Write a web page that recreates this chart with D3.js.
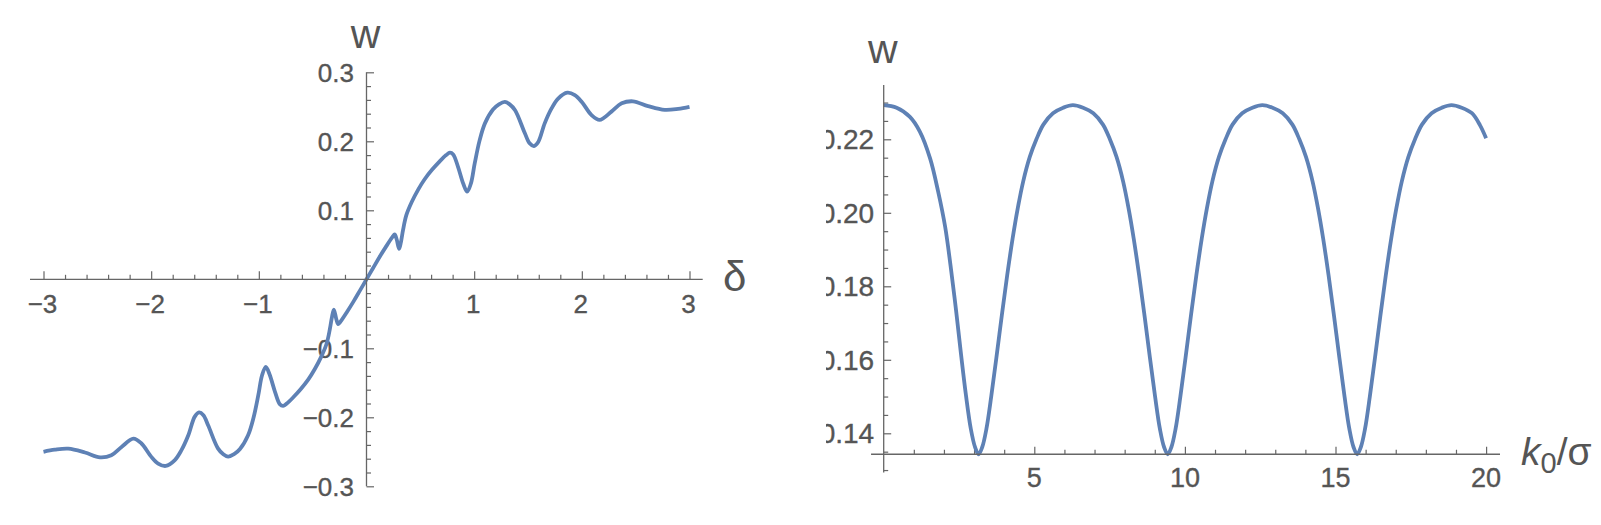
<!DOCTYPE html>
<html>
<head>
<meta charset="utf-8">
<script src="https://cdn.jsdelivr.net/npm/d3@7"></script>
<style>
  body { margin: 0; background: #fff; }
  svg { display: block; }
  text { font-family: "Liberation Sans", Arial, sans-serif; fill: #555; }
  .tl { stroke: #555; stroke-width: 0.35px; }
</style>
</head>
<body>
<svg width="1601" height="525"></svg>
<script>
// left panel: w against delta
const delta = [
  -3.00, -2.895, -2.77, -2.615, -2.475, -2.37, -2.275, -2.165, -2.09, -2.00,
  -1.935, -1.865, -1.78, -1.72, -1.655, -1.595, -1.555, -1.515, -1.47, -1.38,
  -1.33, -1.285, -1.23, -1.175, -1.10, -1.05, -1.005, -0.97, -0.935, -0.90,
  -0.85, -0.805, -0.775, -0.74, -0.68, -0.61, -0.54, -0.48, -0.42, -0.37,
  -0.34, -0.32, -0.303, -0.28, -0.262, -0.24, -0.18, -0.12, -0.06,
  0, 0.06, 0.12, 0.18, 0.24, 0.262, 0.28, 0.303, 0.32, 0.34,
  0.37, 0.42, 0.48, 0.54, 0.61, 0.68, 0.74, 0.775, 0.805, 0.85,
  0.90, 0.935, 0.97, 1.005, 1.05, 1.10, 1.175, 1.23, 1.285, 1.33,
  1.38, 1.47, 1.515, 1.555, 1.595, 1.655, 1.72, 1.78, 1.865, 1.935,
  2.00, 2.09, 2.165, 2.275, 2.37, 2.475, 2.615, 2.77, 2.895, 3.00
];
const wDelta = [
  -0.250, -0.247, -0.2455, -0.251, -0.258, -0.255, -0.243, -0.231, -0.238, -0.257,
  -0.267, -0.2705, -0.262, -0.248, -0.226, -0.199, -0.193, -0.197, -0.212, -0.245,
  -0.2535, -0.257, -0.2535, -0.246, -0.226, -0.201, -0.168, -0.139, -0.127, -0.138,
  -0.163, -0.181, -0.1835, -0.180, -0.171, -0.159, -0.145, -0.130, -0.112, -0.093,
  -0.072, -0.054, -0.044, -0.058, -0.065, -0.061, -0.047, -0.032, -0.016,
  0, 0.016, 0.032, 0.047, 0.061, 0.065, 0.058, 0.044, 0.054, 0.072,
  0.093, 0.112, 0.130, 0.145, 0.159, 0.171, 0.180, 0.1835, 0.181, 0.163,
  0.138, 0.127, 0.139, 0.168, 0.201, 0.226, 0.246, 0.2535, 0.257, 0.2535,
  0.245, 0.212, 0.197, 0.193, 0.199, 0.226, 0.248, 0.262, 0.2705, 0.267,
  0.257, 0.238, 0.231, 0.243, 0.255, 0.258, 0.251, 0.2455, 0.247, 0.250
];

// right panel: w against k0/sigma
const kSigma = [
  0, 0.43, 0.87, 1.2, 1.54, 1.81, 2.04, 2.22, 2.40, 2.57, 2.73, 2.89, 3.03, 3.15,
  3.27, 3.41, 3.57, 3.74, 3.92, 4.10, 4.28, 4.45, 4.63, 4.85, 5.07, 5.30, 5.62, 5.96, 6.28,
  6.62, 6.96, 7.28, 7.51, 7.73, 7.95, 8.13, 8.30, 8.48, 8.66, 8.84, 9.01, 9.17, 9.31, 9.43,
  9.55, 9.69, 9.85, 10.02, 10.20, 10.38, 10.56, 10.73, 10.91, 11.13, 11.35, 11.58, 11.90, 12.24, 12.57,
  12.91, 13.25, 13.57, 13.80, 14.02, 14.24, 14.42, 14.59, 14.77, 14.95, 15.13, 15.30, 15.46, 15.60, 15.72,
  15.84, 15.98, 16.14, 16.31, 16.49, 16.67, 16.85, 17.02, 17.20, 17.42, 17.64, 17.87, 18.19, 18.53, 18.85,
  19.19, 19.53, 19.80, 20.0
];
const wK = [
  0.2293, 0.2286, 0.2261, 0.2221, 0.2148, 0.2057, 0.1962, 0.1856, 0.1736, 0.1613, 0.1504, 0.1413, 0.1363, 0.1343,
  0.1362, 0.1412, 0.1500, 0.1605, 0.1720, 0.1830, 0.1930, 0.2012, 0.2085, 0.2152, 0.2200, 0.2240, 0.2271, 0.2286, 0.2293,
  0.2286, 0.2271, 0.2240, 0.2200, 0.2152, 0.2085, 0.2012, 0.1930, 0.1830, 0.1720, 0.1605, 0.1500, 0.1412, 0.1362, 0.1343,
  0.1362, 0.1412, 0.1500, 0.1605, 0.1720, 0.1830, 0.1930, 0.2012, 0.2085, 0.2152, 0.2200, 0.2240, 0.2271, 0.2286, 0.2293,
  0.2286, 0.2271, 0.2240, 0.2200, 0.2152, 0.2085, 0.2012, 0.1930, 0.1830, 0.1720, 0.1605, 0.1500, 0.1412, 0.1362, 0.1343,
  0.1362, 0.1412, 0.1500, 0.1605, 0.1720, 0.1830, 0.1930, 0.2012, 0.2085, 0.2152, 0.2200, 0.2240, 0.2271, 0.2286, 0.2293,
  0.2286, 0.2271, 0.2238, 0.2203
];

// tick labels
const leftXTicks = [-3, -2, -1, 1, 2, 3];
const leftXLabels = ["\u22123", "\u22122", "\u22121", "1", "2", "3"];
const leftYTicks = [-0.3, -0.2, -0.1, 0.1, 0.2, 0.3];
const leftYLabels = ["\u22120.3", "\u22120.2", "\u22120.1", "0.1", "0.2", "0.3"];
const rightXTicks = [5, 10, 15, 20];
const rightXLabels = ["5", "10", "15", "20"];
const rightYTicks = [0.14, 0.16, 0.18, 0.20, 0.22];
const rightYLabels = ["0.14", "0.16", "0.18", "0.20", "0.22"];

const axisColor = "#666";
const curveColor = "#5e81b5";

const svg = d3.select("svg");

const xL = d3.scaleLinear().domain([-3, 3]).range([43.5, 689.5]);
const yL = d3.scaleLinear().domain([-0.3, 0.3]).range([486.3, 72.3]);
const xR = d3.scaleLinear().domain([0, 20]).range([883.7, 1486.1]);
const yR = d3.scaleLinear().domain([0.14, 0.22]).range([433.3, 139.3]);
const rightAxisW = 0.1343;

function tickGroup(g, axis) {
  g.call(axis);
  g.select(".domain").remove();
  g.selectAll(".tick line").attr("stroke", axisColor).attr("stroke-width", 1.2);
  g.selectAll(".tick text").remove();
}

function axisLine(x1, y1, x2, y2) {
  svg.append("line")
    .attr("x1", x1).attr("y1", y1).attr("x2", x2).attr("y2", y2)
    .attr("stroke", axisColor).attr("stroke-width", 1.3);
}

// ---- left panel ----
const left = svg.append("g");
const minorLX = d3.range(-3, 3.001, 0.2).filter(v => Math.abs(v) > 1e-6 && Math.abs(v - Math.round(v)) > 1e-6);
const minorLY = d3.range(-0.3, 0.301, 0.02).filter(v => Math.abs(v) > 1e-6 && Math.abs(v * 10 - Math.round(v * 10)) > 1e-6);

axisLine(30, yL(0), 702.7, yL(0));
axisLine(xL(0), yL(-0.3), xL(0), yL(0.3));

left.append("g").attr("transform", `translate(0,${yL(0)})`)
  .call(tickGroup, d3.axisTop(xL).tickValues(leftXTicks).tickSize(8));
left.append("g").attr("transform", `translate(0,${yL(0)})`)
  .call(tickGroup, d3.axisTop(xL).tickValues(minorLX).tickSize(4.5));
left.append("g").attr("transform", `translate(${xL(0)},0)`)
  .call(tickGroup, d3.axisRight(yL).tickValues(leftYTicks).tickSize(7.5));
left.append("g").attr("transform", `translate(${xL(0)},0)`)
  .call(tickGroup, d3.axisRight(yL).tickValues(minorLY).tickSize(4.5));

left.selectAll(".xlab").data(leftXTicks).join("text")
  .attr("class", "tl")
  .attr("x", d => xL(d) - 1).attr("y", yL(0) + 34)
  .attr("text-anchor", "middle").style("font-size", "26px")
  .text((d, i) => leftXLabels[i]);
left.selectAll(".ylab").data(leftYTicks).join("text")
  .attr("class", "tl")
  .attr("x", xL(0) - 12.5).attr("y", d => yL(d) + 9.2)
  .attr("text-anchor", "end").style("font-size", "26px")
  .text((d, i) => leftYLabels[i]);

left.append("text").attr("x", xL(0) - 1).attr("y", 48)
  .attr("text-anchor", "middle").style("font-size", "41px").text("w");
left.append("text").attr("x", 723).attr("y", 291)
  .style("font-size", "42px").text("δ");

const lineL = d3.line()
  .x((d, i) => xL(delta[i]))
  .y((d, i) => yL(wDelta[i]))
  .curve(d3.curveCatmullRom.alpha(0.5));
left.append("path").datum(delta)
  .attr("d", lineL)
  .attr("fill", "none").attr("stroke", curveColor)
  .attr("stroke-width", 3.8).attr("stroke-linejoin", "round");

// ---- right panel ----
svg.append("defs").append("clipPath").attr("id", "rclip")
  .append("rect").attr("x", 826).attr("y", 0).attr("width", 780).attr("height", 525);
const right = svg.append("g").attr("clip-path", "url(#rclip)");

const minorRX = d3.range(1, 21, 1).filter(v => v % 5 !== 0);
const minorRY = d3.range(0.13, 0.2326, 0.005).filter(v => Math.abs(v * 50 - Math.round(v * 50)) > 1e-6);

axisLine(xR(-0.42), yR(rightAxisW), 1500, yR(rightAxisW));
axisLine(xR(0), yR(0.1293), xR(0), yR(0.2348));

right.append("g").attr("transform", `translate(0,${yR(rightAxisW)})`)
  .call(tickGroup, d3.axisTop(xR).tickValues(rightXTicks).tickSize(7.5));
right.append("g").attr("transform", `translate(0,${yR(rightAxisW)})`)
  .call(tickGroup, d3.axisTop(xR).tickValues(minorRX).tickSize(4.5));
right.append("g").attr("transform", `translate(${xR(0)},0)`)
  .call(tickGroup, d3.axisRight(yR).tickValues(rightYTicks).tickSize(7.5));
right.append("g").attr("transform", `translate(${xR(0)},0)`)
  .call(tickGroup, d3.axisRight(yR).tickValues(minorRY).tickSize(4.5));

right.selectAll(".xlab").data(rightXTicks).join("text")
  .attr("class", "tl")
  .attr("x", d => xR(d)).attr("y", yR(rightAxisW) + 33)
  .attr("text-anchor", "middle").style("font-size", "27px")
  .text((d, i) => rightXLabels[i]);
right.selectAll(".ylab").data(rightYTicks).join("text")
  .attr("class", "tl")
  .attr("x", xR(0) - 9.5).attr("y", d => yR(d) + 9.8)
  .attr("text-anchor", "end").style("font-size", "28px")
  .text((d, i) => rightYLabels[i]);

right.append("text").attr("x", xR(0) - 1).attr("y", 62.5)
  .attr("text-anchor", "middle").style("font-size", "41px").text("w");
const kLab = right.append("text").attr("x", 1521).attr("y", 465).style("font-size", "39px");
kLab.append("tspan").style("font-style", "italic").text("k");
kLab.append("tspan").attr("dy", 8).style("font-size", "29px").text("0");
kLab.append("tspan").attr("dy", -8).text("/σ");

const lineR = d3.line()
  .x((d, i) => xR(kSigma[i]))
  .y((d, i) => yR(wK[i]))
  .curve(d3.curveCatmullRom.alpha(0.5));
right.append("path").datum(kSigma)
  .attr("d", lineR)
  .attr("fill", "none").attr("stroke", curveColor)
  .attr("stroke-width", 3.8).attr("stroke-linejoin", "round");
</script>
</body>
</html>
